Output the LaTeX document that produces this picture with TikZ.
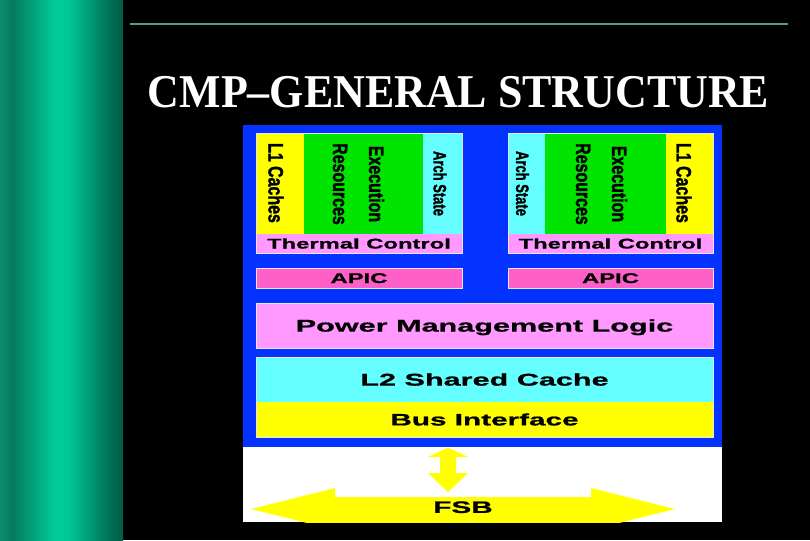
\documentclass[tikz,border=0pt]{standalone}
\usepackage{fontspec}
\setmainfont{Liberation Serif}
\newfontfamily\titlefont{Liberation Serif}[FakeStretch=0.935]
\newfontfamily\wideA{Liberation Sans}[FakeStretch=1.8, FakeBold=1]
\newfontfamily\wideB{Liberation Sans}[FakeStretch=1.7, FakeBold=1]
\newfontfamily\narrowA{Liberation Sans}[FakeStretch=0.76, FakeBold=1.6]
\newfontfamily\narrowB{Liberation Sans}[FakeStretch=0.72, FakeBold=1.4]
\definecolor{chipblue}{HTML}{0433FF}
\definecolor{cyel}{HTML}{FFFF00}
\definecolor{cgreen}{HTML}{00E400}
\definecolor{ccyan}{HTML}{66FFFF}
\definecolor{cpink}{HTML}{FF99FF}
\definecolor{capic}{HTML}{FF60C8}
\definecolor{rulegreen}{HTML}{5A9C7C}
\definecolor{edgecol}{HTML}{E6E6F0}
\definecolor{tb0}{HTML}{0F8C6C}
\definecolor{tb1}{HTML}{067A5C}
\definecolor{tb2}{HTML}{00CC99}
\definecolor{tb3}{HTML}{00C896}
\definecolor{tb4}{HTML}{006B50}
\definecolor{tb5}{HTML}{005E47}
\tikzset{
  blk/.style 2 args={minimum width=#1, minimum height=#2, inner sep=0pt, outer sep=0pt, anchor=north west, text=black},
  edge/.style={draw=edgecol, line width=0.7pt},
  capc/.style={text height=#1, text depth=0pt},
  vlab/.style={rotate=-90, inner sep=0pt, outer sep=0pt, text=black, align=center},
  bigv/.style={font=\narrowA\bfseries\fontsize{21}{36}\selectfont},
  smallv/.style={font=\narrowB\bfseries\fontsize{18}{20}\selectfont},
  thermtxt/.style={font=\wideB\bfseries\fontsize{14}{16}\selectfont, capc=10pt},
  mainA/.style={font=\wideA\bfseries\fontsize{17}{20}\selectfont, capc=12.2pt},
  mainB/.style={font=\wideA\bfseries\fontsize{16.5}{19}\selectfont, capc=11.8pt},
  yarrow/.style={fill=cyel, draw=none}
}
\begin{document}
\begin{tikzpicture}[x=1pt,y=-1pt]
\useasboundingbox (0,0) rectangle (810,540);
\fill[black] (0,0) rectangle (810,540);
% teal side bar
\shade[left color=tb0, right color=tb1] (0,0) rectangle (12.5,540);
\shade[left color=tb1, right color=tb2] (12,0) rectangle (55.5,540);
\shade[left color=tb2, right color=tb3] (55,0) rectangle (68.5,540);
\shade[left color=tb3, right color=tb4] (68,0) rectangle (112.5,540);
\shade[left color=tb4, right color=tb5] (112,0) rectangle (123,540);
% title rule and title
\coordinate (ruleL) at (130,24);
\coordinate (ruleR) at (788,24);
\draw[rulegreen, line width=2pt] (ruleL) -- (ruleR);
\node[font=\titlefont\bfseries\fontsize{47}{50}\selectfont, text=white, anchor=base, inner sep=0pt] (title) at (458.5,108) {CMP–GENERAL STRUCTURE};
% chip panel and bus area
\node[blk={479pt}{322pt}, fill=chipblue] (chip) at (243,125) {};
\node[blk={479pt}{75pt}, fill=white] (busarea) at (243,447) {};
% left core
\node[blk={48pt}{101pt}, fill=cyel] (l1L) at (256,133) {};
\node[blk={119pt}{101pt}, fill=cgreen] (exL) at (304,133) {};
\node[blk={39pt}{101pt}, fill=ccyan] (arL) at (423,133) {};
\node[blk={206pt}{19pt}, fill=cpink, thermtxt] (thL) at (256,234) {Thermal Control};
\draw[edge] (l1L.north west) rectangle (thL.south east);
\node[blk={206pt}{20pt}, fill=capic, edge, thermtxt] (apL) at (256,268) {APIC};
\node[vlab, bigv] (l1Lt) at (276,183) {L1 Caches};
\node[vlab, bigv] (exLt) at (358.5,184) {Execution\\Resources};
\node[vlab, smallv] (arLt) at (440,183.5) {Arch State};
% right core
\node[blk={37pt}{101pt}, fill=ccyan] (arR) at (508,133) {};
\node[blk={121pt}{101pt}, fill=cgreen] (exR) at (545,133) {};
\node[blk={47pt}{101pt}, fill=cyel] (l1R) at (666,133) {};
\node[blk={205pt}{19pt}, fill=cpink, thermtxt] (thR) at (508,234) {Thermal Control};
\draw[edge] (arR.north west) rectangle (thR.south east);
\node[blk={205pt}{20pt}, fill=capic, edge, thermtxt] (apR) at (508,268) {APIC};
\node[vlab, smallv] (arRt) at (522.5,183.5) {Arch State};
\node[vlab, bigv] (exRt) at (601.5,184) {Execution\\Resources};
\node[vlab, bigv] (l1Rt) at (684,183) {L1 Caches};
% shared blocks
\node[blk={457pt}{45pt}, fill=cpink, edge, mainA] (pml) at (256,303) {Power Management Logic};
\node[blk={457pt}{45pt}, fill=ccyan, mainA] (l2) at (256,357) {L2 Shared Cache};
\node[blk={457pt}{35pt}, fill=cyel, mainB] (bus) at (256,402) {Bus Interface};
\draw[edge] (l2.north west) rectangle (bus.south east);
% vertical double arrow
\fill[yarrow] (448,447.5) -- (468,457) -- (456,457) -- (456,473) -- (468,473) -- (448,492)
  -- (428,473) -- (440,473) -- (440,457) -- (428,457) -- cycle;
% FSB double arrow
\begin{scope}
\clip (busarea.north west) rectangle (busarea.south east);
\fill[yarrow] (251,509) -- (335,488) -- (335,497) -- (591,497) -- (591,488) -- (675,509)
  -- (591,530) -- (591,523) -- (335,523) -- (335,530) -- cycle;
\end{scope}
\node[mainB, inner sep=0pt, text=black] (fsb) at (463,507) {FSB};
\end{tikzpicture}
\end{document}
